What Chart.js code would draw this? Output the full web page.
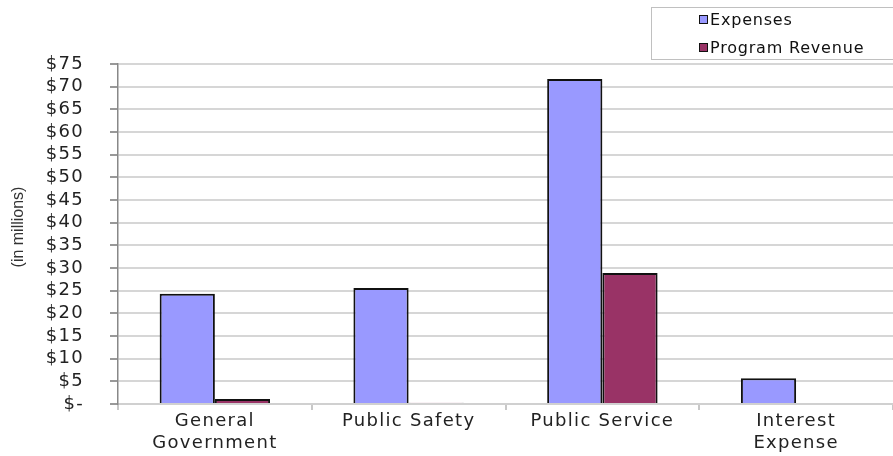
<!DOCTYPE html>
<html>
<head>
<meta charset="utf-8">
<script src="https://cdn.jsdelivr.net/npm/chart.js@4"></script>
<style>
  html, body { margin: 0; padding: 0; background: #fff; }
  #wrap { position: relative; width: 893px; height: 456px; }
  #legend {
    position: absolute; left: 651px; top: 7px; width: 260px; height: 53px;
    border: 1px solid #c0c0c0; box-sizing: border-box;
    font: 16px "DejaVu Sans", sans-serif; letter-spacing: 0.8px; color: #111;
  }
  #legend div { position: absolute; left: 47px; height: 18px; line-height: 18px; white-space: nowrap; }
  #legend span {
    display: inline-block; width: 7px; height: 7px; border: 1px solid #111;
    margin-right: 2px; vertical-align: 1px;
  }
</style>
</head>
<body>
<div id="wrap">
  <canvas id="chart" width="893" height="456"></canvas>
  <div id="legend">
    <div style="top:3px"><span style="background:#9999ff"></span>Expenses</div>
    <div style="top:31px"><span style="background:#993366"></span>Program Revenue</div>
  </div>
</div>
<script>
const categories = [['General', 'Government'], 'Public Safety', 'Public Service', ['Interest', 'Expense']];
const expenses = [24.3, 25.6, 71.7, 5.7];
const programRevenue = [1.1, 0.3, 28.9, 0];
const yTicks = [0, 5, 10, 15, 20, 25, 30, 35, 40, 45, 50, 55, 60, 65, 70, 75];
const yTitle = '(in millions)';

const font = { family: '"DejaVu Sans", sans-serif', size: 18 };

// the reference text is set wide, so add a little spacing between letters;
// the rotated axis title is not stretched, so it is drawn here without it
const wideText = {
  id: 'wideText',
  beforeInit: c => { c.ctx.letterSpacing = '1.3px'; },
  beforeDraw: c => { c.ctx.letterSpacing = '1.3px'; },
  afterDraw: c => {
    const ctx = c.ctx, a = c.chartArea;
    ctx.save();
    ctx.letterSpacing = '0px';
    ctx.translate(19, (a.top + a.bottom) / 2 - 7);
    ctx.rotate(-Math.PI / 2);
    ctx.font = '16px "Liberation Sans", Arial, sans-serif';
    ctx.fillStyle = '#333';
    ctx.textAlign = 'center';
    ctx.textBaseline = 'middle';
    ctx.fillText(yTitle, 0, 0);
    ctx.restore();
  }
};

new Chart(document.getElementById('chart').getContext('2d'), {
  type: 'bar',
  plugins: [wideText],
  data: {
    labels: categories,
    datasets: [{
      label: 'Expenses',
      data: expenses,
      backgroundColor: '#9999ff',
      borderColor: '#111',
      borderWidth: 2,
      categoryPercentage: 0.57,
      barPercentage: 1
    }, {
      label: 'Program Revenue',
      data: programRevenue,
      backgroundColor: '#993366',
      borderColor: '#111',
      borderWidth: 2,
      categoryPercentage: 0.57,
      barPercentage: 1
    }]
  },
  options: {
    responsive: false,
    animation: false,
    layout: { padding: { top: 64, right: 0, left: 0, bottom: 0 } },
    plugins: {
      legend: { display: false },
      tooltip: { enabled: false }
    },
    scales: {
      x: {
        grid: { drawOnChartArea: false, offset: true, tickLength: 6, color: '#c8c8c8', lineWidth: 2 },
        border: { color: '#d0d0d0', width: 2 },
        ticks: { color: '#222', font: font, padding: 1, maxRotation: 0, lineHeight: 1.15 },
        afterFit: s => { s.height = 52; }
      },
      y: {
        min: 0,
        max: 75,
        afterBuildTicks: s => { s.ticks = yTicks.map(v => ({ value: v })); },
        grid: { color: '#d6d6d6', lineWidth: 2, tickLength: 8, tickColor: '#999' },
        border: { color: '#888', width: 1.5 },
        ticks: {
          color: '#222', font: font, padding: 26, autoSkip: false,
          callback: v => v === 0 ? '$-' : '$' + v
        },
        afterFit: s => { s.width = 118; }
      }
    }
  }
});
</script>
</body>
</html>
